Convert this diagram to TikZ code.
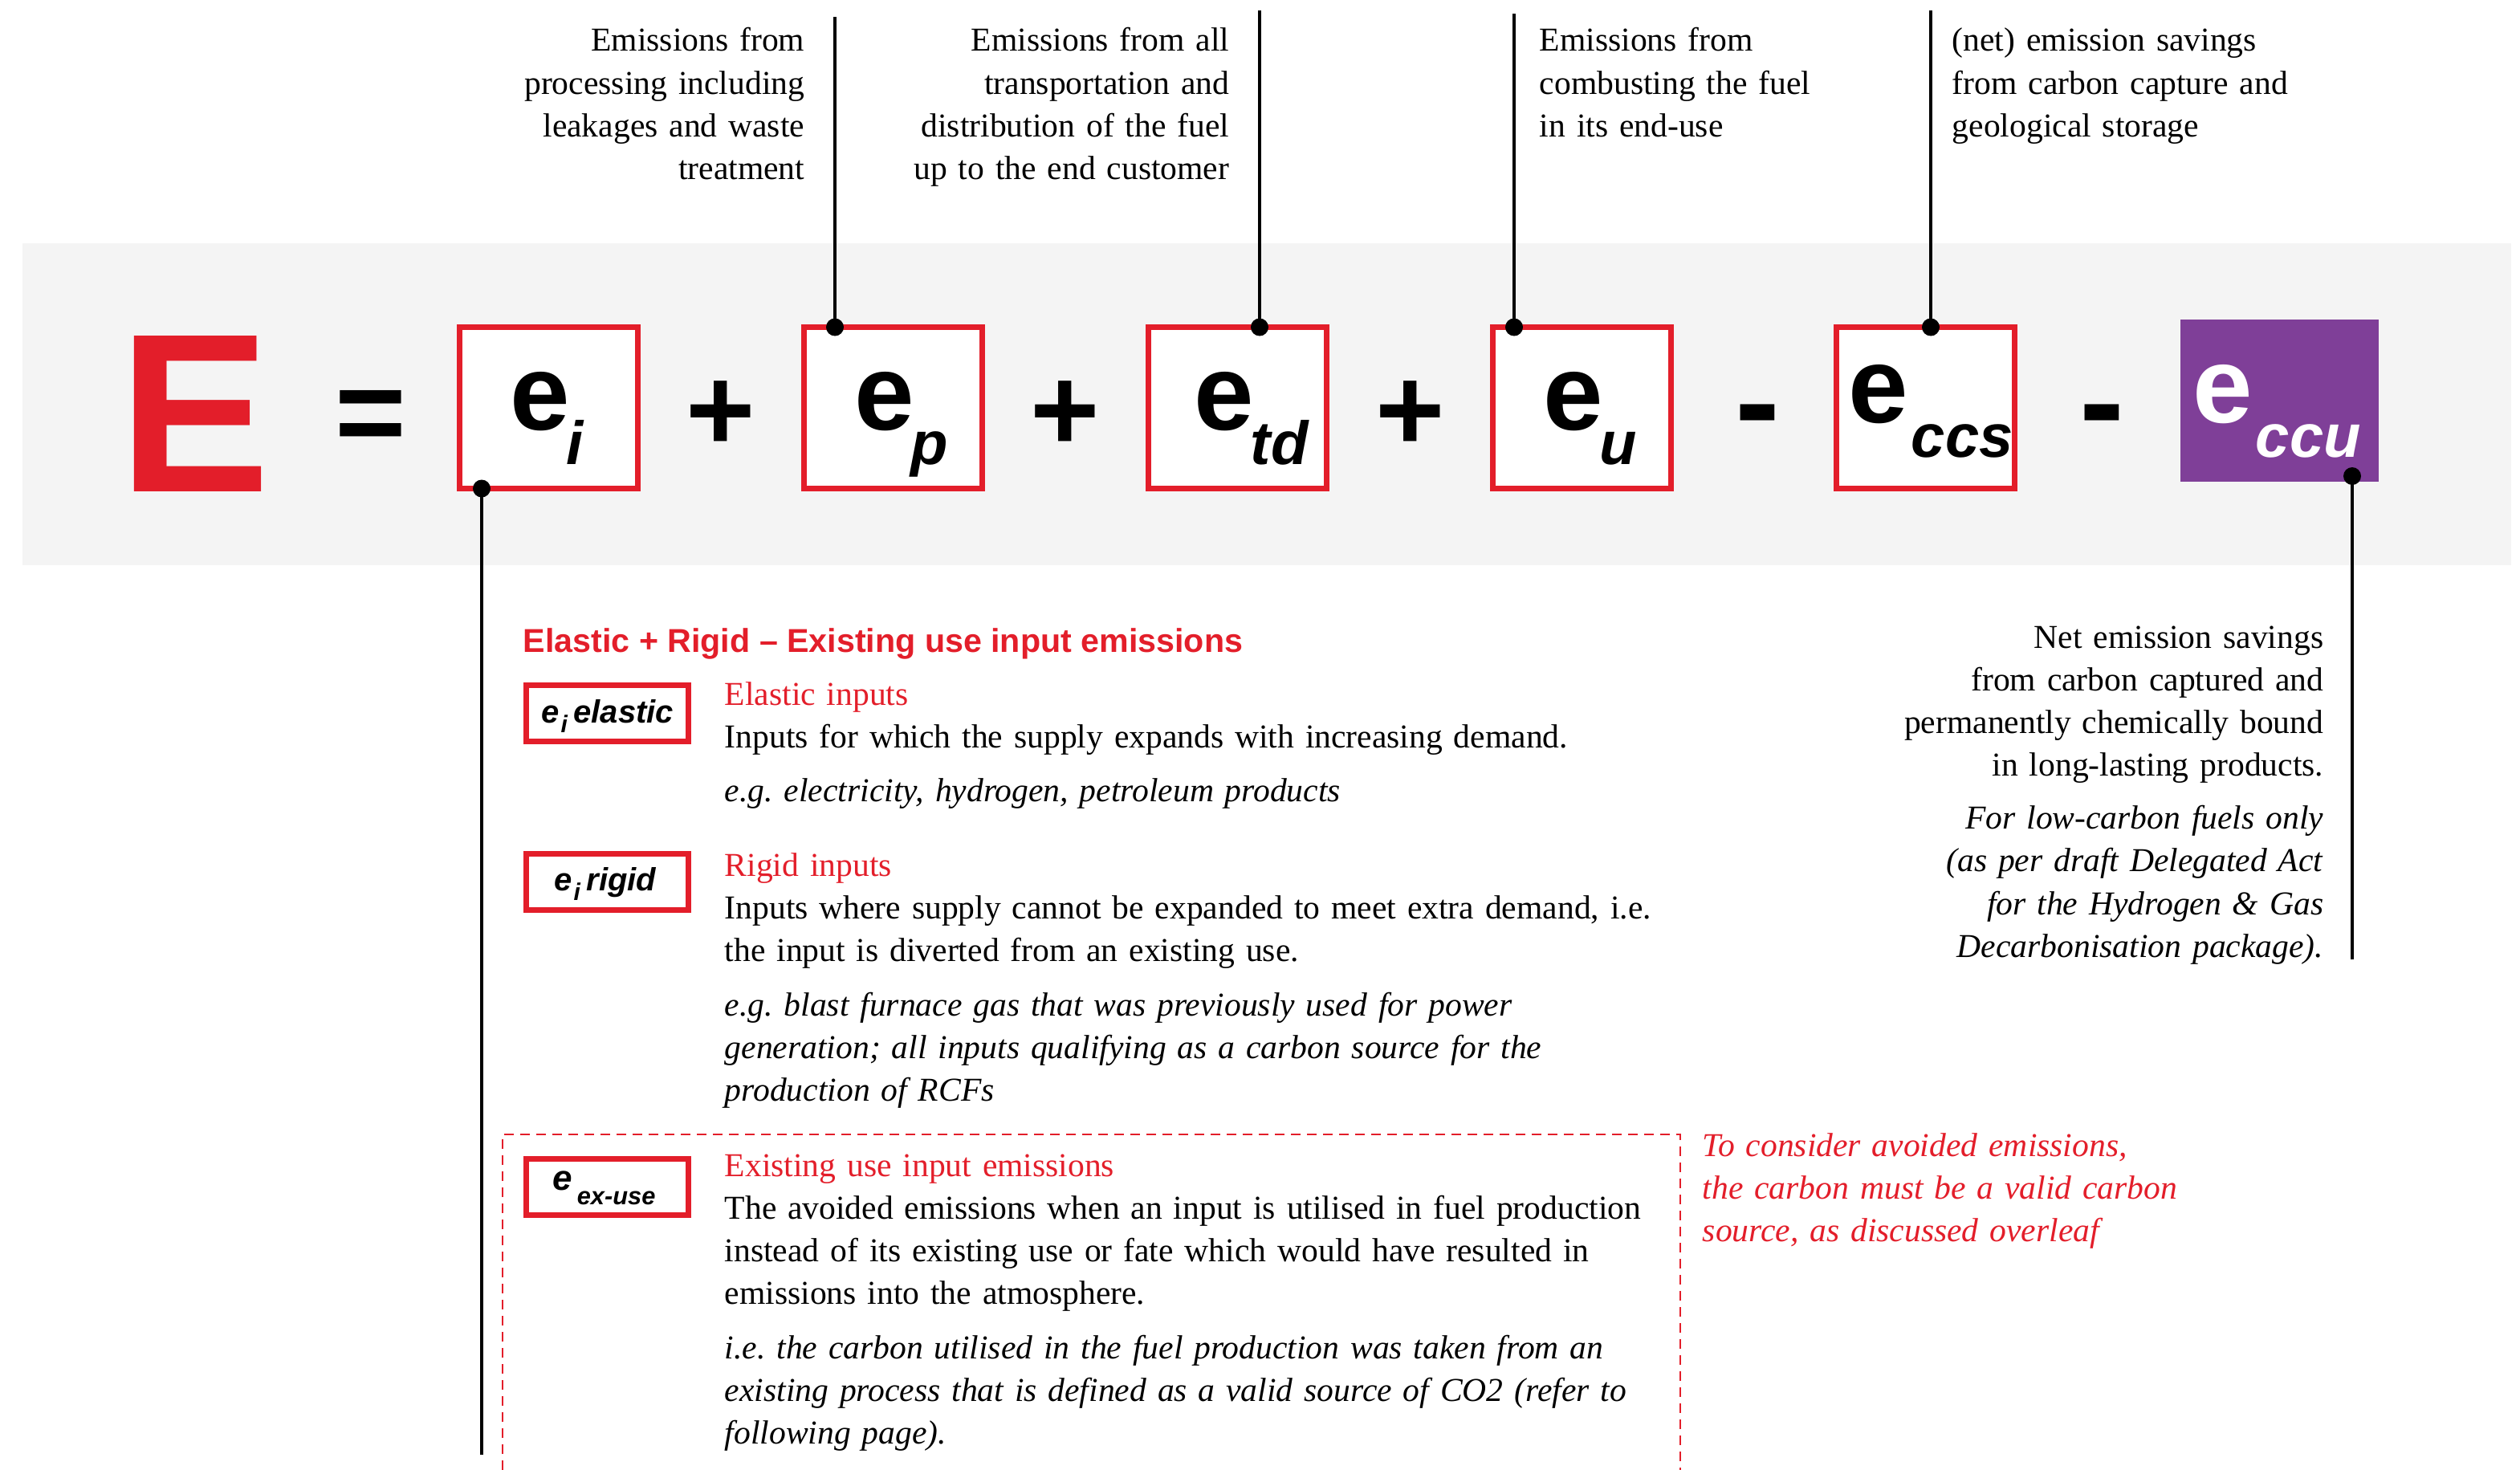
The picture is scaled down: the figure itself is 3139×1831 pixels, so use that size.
\documentclass[tikz,border=0pt]{standalone}
\usepackage{fontspec}
\setmainfont{Liberation Serif}
\setsansfont{Liberation Sans}
\usetikzlibrary{calc}
\definecolor{eured}{HTML}{E31E2A}
\definecolor{ccupurple}{HTML}{7F3F98}
\definecolor{bandgray}{HTML}{F4F4F4}

\begin{document}
\begin{tikzpicture}[x=0.25pt, y=-0.25pt,
  termbox/.style={rectangle, draw=eured, line width=1.75pt, fill=white,
    inner sep=0, outer sep=0, minimum width=55.5pt, minimum height=50.25pt},
  ccubox/.style={rectangle, fill=ccupurple, inner sep=0, outer sep=0,
    minimum width=61.75pt, minimum height=50.5pt},
  smallbox/.style={rectangle, draw=eured, line width=1.75pt, fill=white,
    inner sep=0, outer sep=0, minimum width=50.5pt, minimum height=17.5pt},
  conn/.style={line width=1.1pt, black},
  dotmark/.style={circle, fill=black, inner sep=0, minimum size=5.5pt},
  opsign/.style={inner sep=0, font=\sffamily\bfseries\fontsize{37}{37}\selectfont},
  bige/.style={inner sep=0, font=\sffamily\bfseries\fontsize{33.5}{33.5}\selectfont},
  bigsub/.style={inner sep=0, font=\sffamily\bfseries\itshape\fontsize{19}{19}\selectfont},
  smalle/.style={inner sep=0, font=\sffamily\bfseries\itshape\fontsize{10}{10}\selectfont},
  bodytext/.style={inner sep=0, font=\fontsize{10.4}{13.3}\selectfont},
  heading/.style={inner sep=0, text=eured, font=\sffamily\bfseries\fontsize{10.3}{12}\selectfont}
]
\useasboundingbox (0,0) rectangle (3139,1831);

% grey band behind the equation
\fill[bandgray] (28,303) rectangle (3128,704);

% the equation
\node[inner sep=0, anchor=base, text=eured,
  font=\sffamily\bfseries\fontsize{70.5}{70.5}\selectfont] (bigE) at (243,612) {E};
\node[opsign, anchor=base, font=\sffamily\bfseries\fontsize{38}{38}\selectfont] (eqs) at (462,565) {=};

\node[termbox] (bi)   at (683.5,508)  {};
\node[termbox] (bp)   at (1112.5,508) {};
\node[termbox] (btd)  at (1541.5,508) {};
\node[termbox] (bu)   at (1970.5,508) {};
\node[termbox] (bccs) at (2398.5,508) {};
\node[ccubox]  (bccu) at (2839.5,499) {};

\node[opsign, anchor=base] (plus1) at (898,561)  {+};
\node[opsign, anchor=base] (plus2) at (1327,561) {+};
\node[opsign, anchor=base] (plus3) at (1757,561) {+};
\node[opsign, anchor=base, font=\sffamily\bfseries\fontsize{42}{42}\selectfont] (minus1) at (2189,557) {-};
\node[opsign, anchor=base, font=\sffamily\bfseries\fontsize{42}{42}\selectfont] (minus2) at (2618,557) {-};

% term labels
\node[bige, anchor=base west] (ei) at (635,535) {e};
\node[bigsub, anchor=base west] at ([xshift=-1.5pt,yshift=-10.75pt]ei.base east) {i};
\node[bige, anchor=base west] (ep) at (1064,535) {e};
\node[bigsub, anchor=base west] at ([xshift=-1.5pt,yshift=-10.75pt]ep.base east) {p};
\node[bige, anchor=base west] (etd) at (1487,535) {e};
\node[bigsub, anchor=base west] at ([xshift=-1.5pt,yshift=-10.75pt]etd.base east) {td};
\node[bige, anchor=base west] (eu) at (1922,535) {e};
\node[bigsub, anchor=base west] at ([xshift=-1.5pt,yshift=-10.75pt]eu.base east) {u};
\node[bige, anchor=base west] (eccs) at (2302,526) {e};
\node[bigsub, anchor=base west] at ([xshift=0.5pt,yshift=-10.75pt]eccs.base east) {ccs};
\node[bige, anchor=base west, text=white] (eccu) at (2731,526) {e};
\node[bigsub, anchor=base west, text=white] at ([xshift=0.5pt,yshift=-10.75pt]eccu.base east) {ccu};

% callouts above the equation
\node[bodytext, text width=150pt, align=right, anchor=base east] (tp) at (1003,64)
  {Emissions from\\processing including\\leakages and waste\\treatment};
\node[bodytext, text width=150pt, align=right, anchor=base east] (ttd) at (1532,64)
  {Emissions from all\\transportation and\\distribution of the fuel\\up to the end customer};
\node[bodytext, text width=150pt, align=left, anchor=base west] (tu) at (1917,64)
  {Emissions from\\combusting the fuel\\in its end-use};
\node[bodytext, text width=150pt, align=left, anchor=base west] (tccs) at (2431,64)
  {(net) emission savings\\from carbon capture and\\geological storage};

\coordinate (cp)   at (1040,21);
\coordinate (ctd)  at (1569,13);
\coordinate (cu)   at (1886,17);
\coordinate (cccs) at (2405,13);
\draw[conn] (cp)   -- (cp |- bp.north)     node[dotmark] {};
\draw[conn] (ctd)  -- (ctd |- btd.north)   node[dotmark] {};
\draw[conn] (cu)   -- (cu |- bu.north)     node[dotmark] {};
\draw[conn] (cccs) -- (cccs |- bccs.north) node[dotmark] {};

% callouts below the equation
\coordinate (ci)   at (600,1812);
\coordinate (cccu) at (2930,1195);
\draw[conn] (ci) -- (ci |- bi.south) node[dotmark] {};
\draw[conn] (cccu) -- ($(cccu |- bccu.south)+(0,-7)$) node[dotmark] {};

\node[heading, anchor=base west] (head) at (651,812)
  {Elastic + Rigid – Existing use input emissions};

% elastic inputs
\node[smallbox] (sbel) at (756,888) {};
\node[smalle, anchor=base west] (sbel-e) at (674,900) {e};
\node[smalle, anchor=base west, font=\sffamily\bfseries\itshape\fontsize{7.5}{7.5}\selectfont]
  (sbel-i) at ([yshift=-3pt]sbel-e.base east) {i};
\node[smalle, anchor=base west] at ([xshift=1.5pt,yshift=3pt]sbel-i.base east) {elastic};
\node[bodytext, text width=320pt, align=left, anchor=base west] (telastic) at (902,878)
  {\textcolor{eured}{Elastic inputs}\\
   Inputs for which the supply expands with increasing demand.\\[3.6pt]
   \textit{e.g.\ electricity, hydrogen, petroleum products}};

% rigid inputs
\node[smallbox] (sbri) at (756.5,1098.5) {};
\node[smalle, anchor=base west] (sbri-e) at (690,1109) {e};
\node[smalle, anchor=base west, font=\sffamily\bfseries\itshape\fontsize{7.5}{7.5}\selectfont]
  (sbri-i) at ([yshift=-3pt]sbri-e.base east) {i};
\node[smalle, anchor=base west] at ([xshift=1.5pt,yshift=3pt]sbri-i.base east) {rigid};
\node[bodytext, text width=320pt, align=left, anchor=base west] (trigid) at (902,1091)
  {\textcolor{eured}{Rigid inputs}\\
   Inputs where supply cannot be expanded to meet extra demand, i.e.\\
   the input is diverted from an existing use.\\[3.6pt]
   \textit{e.g.\ blast furnace gas that was previously used for power}\\
   \textit{generation; all inputs qualifying as a carbon source for the}\\
   \textit{production of RCFs}};

% existing use input emissions
\draw[eured, line width=0.7pt, dash pattern=on 3pt off 2pt]
  (626,1831) -- (626,1413) -- (2093,1413) -- (2093,1831);
\node[smallbox] (sbex) at (756.5,1478) {};
\node[smalle, anchor=base west, font=\sffamily\bfseries\itshape\fontsize{11}{11}\selectfont]
  (sbex-e) at (688,1482) {e};
\node[smalle, anchor=base west, font=\sffamily\bfseries\itshape\fontsize{7.7}{7.7}\selectfont]
  at (718,1500) {ex-use};
\node[bodytext, text width=320pt, align=left, anchor=base west] (texuse) at (902,1465)
  {\textcolor{eured}{Existing use input emissions}\\
   The avoided emissions when an input is utilised in fuel production\\
   instead of its existing use or fate which would have resulted in\\
   emissions into the atmosphere.\\[3.6pt]
   \textit{i.e.\ the carbon utilised in the fuel production was taken from an}\\
   \textit{existing process that is defined as a valid source of CO2 (refer to}\\
   \textit{following page).}};
\node[bodytext, text width=200pt, align=left, anchor=base west, text=eured] (tnote) at (2120,1440)
  {\textit{To consider avoided emissions,}\\
   \textit{the carbon must be a valid carbon}\\
   \textit{source, as discussed overleaf}};

% carbon capture and utilisation
\node[bodytext, text width=200pt, align=right, anchor=base east] (tccu) at (2895,807)
  {Net emission savings\\
   from carbon captured and\\
   permanently chemically bound\\
   in long-lasting products.\\[3.2pt]
   \textit{For low-carbon fuels only}\\
   \textit{(as per draft Delegated Act}\\
   \textit{for the Hydrogen \& Gas}\\
   \textit{Decarbonisation package).}};
\end{tikzpicture}
\end{document}
